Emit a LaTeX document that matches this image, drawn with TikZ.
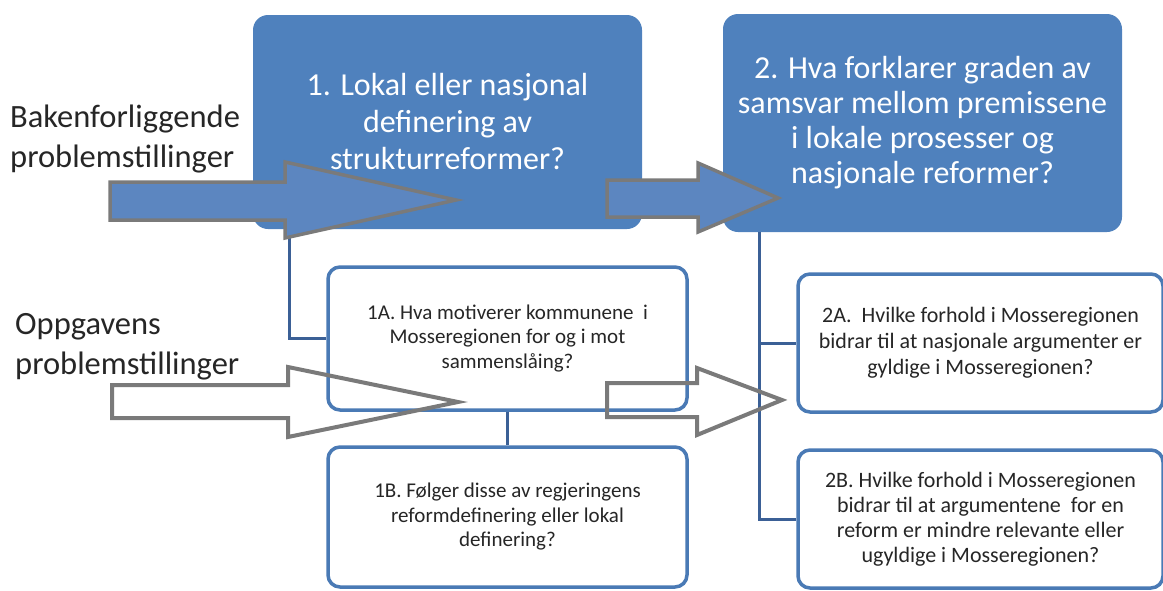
\documentclass[tikz,border=0pt]{standalone}
\usepackage{fontspec}
\setmainfont{Carlito}
\usetikzlibrary{calc}
\definecolor{boxblue}{HTML}{4F81BD}
\definecolor{edgeblue}{HTML}{4A7AB5}
\definecolor{linkblue}{HTML}{3B6096}
\definecolor{arrowfill}{HTML}{5C86C0}
\definecolor{arrowgray}{HTML}{7A7A7A}
\definecolor{txt}{HTML}{262626}
\begin{document}
\begin{tikzpicture}[x=1pt,y=-1pt,
  bigbox/.style={draw=none, fill=boxblue, rounded corners=15pt, text=white, align=center, inner sep=0pt},
  smallbox/.style={draw=edgeblue, line width=3.5pt, fill=white, rounded corners=12pt, text=txt, align=center, inner sep=0pt},
  link/.style={draw=linkblue, line width=3pt},
  solidarrow/.style={draw=arrowgray, fill=arrowfill, line width=3.5pt, line join=miter},
  hollowarrow/.style={draw=arrowgray, line width=4pt, line join=miter},
  sidelabel/.style={align=left, inner sep=0pt, text=txt, font=\fontsize{32.5}{40}\selectfont, anchor=west}
]
\useasboundingbox (0,0) rectangle (1163,590);

% side labels
\node[sidelabel] (lab1) at (10,139) {Bakenforliggende\\problemstillinger};
\node[sidelabel] (lab2) at (15,347) {Oppgavens\\problemstillinger};

% main boxes
\node[bigbox, minimum width=389pt, minimum height=214pt, font=\fontsize{32}{37}\selectfont] (b1) at (447.5,122)
  {1. Lokal eller nasjonal\\definering av\\strukturreformer?};
\node[bigbox, minimum width=399pt, minimum height=218pt, font=\fontsize{32}{35}\selectfont] (b2) at (922.5,123)
  {2. Hva forklarer graden av\\samsvar mellom premissene\\i lokale prosesser og\\nasjonale reformer?};

% sub boxes
\node[smallbox, minimum width=359pt, minimum height=143pt, font=\fontsize{21}{24.5}\selectfont] (b1a) at (507.5,338.5)
  {1A. Hva motiverer kommunene~ i\\Mosseregionen for og i mot\\sammenslåing?};
\node[smallbox, minimum width=359pt, minimum height=140pt, font=\fontsize{21}{24.5}\selectfont] (b1b) at (507.5,517)
  {1B. Følger disse av regjeringens\\reformdefinering eller lokal\\definering?};
\node[smallbox, minimum width=365pt, minimum height=138pt, font=\fontsize{22}{26}\selectfont] (b2a) at (980.5,343)
  {2A.~ Hvilke forhold i Mosseregionen\\bidrar til at nasjonale argumenter er\\gyldige i Mosseregionen?};
\node[smallbox, minimum width=365pt, minimum height=138pt, font=\fontsize{22}{25}\selectfont] (b2b) at (980.5,519)
  {2B. Hvilke forhold i Mosseregionen\\bidrar til at argumentene~ for en\\reform er mindre relevante eller\\ugyldige i Mosseregionen?};

% connectors
\coordinate (t1) at ($(b1.south west)+(37,0)$);
\draw[link] (t1) |- (b1a.west);
\draw[link] (b1a.south) -- (b1b.north);
\coordinate (t2) at ($(b2.south west)+(37,0)$);
\draw[link] (t2) |- (b2b.west);
\draw[link] (t2 |- b2a.west) -- (b2a.west);

% block arrows
\draw[solidarrow] (110,182) -- (285,182) -- (285,162) -- (456,200) -- (285,238) -- (285,220) -- (110,220) -- cycle;
\draw[solidarrow] (607,180) -- (698,180) -- (698,163) -- (778,198) -- (698,232) -- (698,217) -- (607,217) -- cycle;
\draw[hollowarrow] (112,385) -- (288,385) -- (288,367) -- (458,402) -- (288,437) -- (288,418) -- (112,418) -- cycle;
\draw[hollowarrow] (607,383) -- (697,383) -- (697,368) -- (782,400) -- (697,435) -- (697,417) -- (607,417) -- cycle;
\end{tikzpicture}
\end{document}
